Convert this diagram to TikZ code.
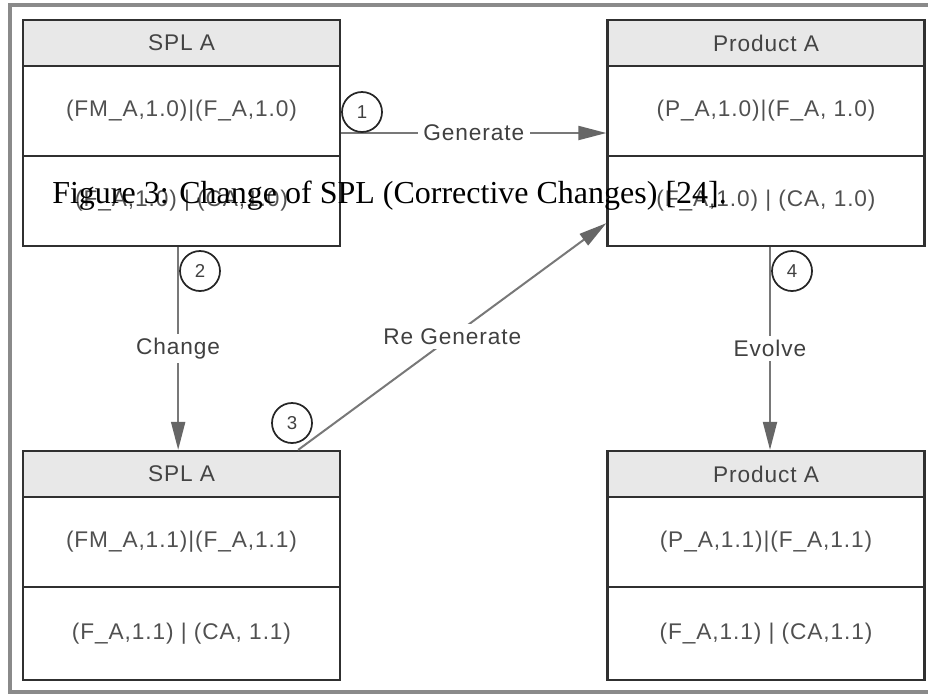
\documentclass[tikz,border=0pt]{standalone}
\usepackage{fontspec}
\setmainfont{Liberation Serif}
\newfontfamily\diagfont[LetterSpace=4]{Liberation Sans}
\usetikzlibrary{arrows.meta,calc}

\definecolor{framegray}{HTML}{8A8A8A}
\definecolor{boxline}{HTML}{303030}
\definecolor{headfill}{HTML}{E8E8E8}
\definecolor{txtgray}{HTML}{505050}
\definecolor{conngray}{HTML}{787878}
\definecolor{tipgray}{HTML}{666666}

% class-like box: name, left x, top y, bottom y, title, first row, second row
\newcommand{\classbox}[7]{%
  \fill[headfill] (#2,#3) rectangle ({#2+317},{#3+46});
  \draw[divider] (#2,{#3+46}) -- ({#2+317},{#3+46});
  \draw[divider] (#2,{#3+136}) -- ({#2+317},{#3+136});
  \node[boxshape, minimum height={(#4-#3)*0.75pt}] (#1) at ({#2+158.5},{(#3+#4)/2}) {};
  \node[headtext] (#1-title) at ({#2+158.5},{#3+23}) {#5};
  \node[celltext] (#1-rowa) at ({#2+158.5},{#3+91}) {#6};
  \node[celltext] (#1-rowb) at ({#2+158.5},{(#3+136+#4)/2}) {#7};
}

\begin{document}
\begin{tikzpicture}[
  x=0.75pt, y=-0.75pt,
  boxshape/.style={draw=boxline, line width=1.7pt, rectangle, inner sep=0pt,
    minimum width=237.75pt},
  divider/.style={draw=boxline, line width=1.7pt},
  headtext/.style={text=txtgray!85!black, font=\diagfont\fontsize{17pt}{20pt}\selectfont, inner sep=0pt},
  celltext/.style={text=txtgray, font=\diagfont\fontsize{17pt}{20pt}\selectfont, inner sep=0pt},
  conn/.style={draw=conngray, line width=1.5pt,
    -{Triangle[length=21pt, width=10.5pt, color=tipgray, fill=tipgray]}},
  edgelabel/.style={fill=white, text=txtgray!80!black, inner xsep=4pt, inner ysep=3pt,
    font=\diagfont\fontsize{17pt}{20pt}\selectfont},
  numcircle/.style={circle, draw=black!85, line width=1.3pt, minimum size=30pt,
    inner sep=0pt, text=txtgray!80!black, font=\diagfont\fontsize{14pt}{16pt}\selectfont},
]
\useasboundingbox (0,0) rectangle (928,694);

% outer frame
\draw[framegray, line width=2.4pt] (10,5) rectangle (950,692);

% the four boxes
\classbox{tl}{23}{20}{246}{SPL A}{(FM\_A,1.0)|(F\_A,1.0)}{(F\_A,1.0) | (CA,1.0)}
\classbox{tr}{607.5}{20}{246}{Product A}{(P\_A,1.0)|(F\_A, 1.0)}{(F\_A,1.0) | (CA, 1.0)}
\classbox{bl}{23}{451}{680}{SPL A}{(FM\_A,1.1)|(F\_A,1.1)}{(F\_A,1.1) | (CA, 1.1)}
\classbox{br}{607.5}{451}{680}{Product A}{(P\_A,1.1)|(F\_A,1.1)}{(F\_A,1.1) | (CA,1.1)}

% connector end points for the diagonal one
\coordinate (regenA) at ($(bl.north east)+(-43,0)$);
\coordinate (regenB) at ($(tr.south west)+(0,-24)$);

% connectors
\draw[conn] (tl) -- node[edgelabel] {Generate} (tr);
\draw[conn] ([xshift=-2.5pt]tl.south) -- node[edgelabel] {Change} ([xshift=-2.5pt]bl.north);
\draw[conn] ([xshift=3pt]tr.south) -- node[edgelabel] {Evolve} ([xshift=3pt]br.north);
\draw[conn] (regenA) -- node[edgelabel] {Re Generate} (regenB);

% step numbers
\node[numcircle] (n1) at (362,112) {1};
\node[numcircle] (n2) at (200,271) {2};
\node[numcircle] (n3) at (292,423) {3};
\node[numcircle] (n4) at (792,271) {4};

% caption text set over the diagram
\node[anchor=base west, inner sep=0pt, text=black,
  font=\fontsize{24pt}{28pt}\selectfont] (caption) at (52,203)
  {Figure 3: Change of SPL (Corrective Changes) [24].};
\end{tikzpicture}
\end{document}
